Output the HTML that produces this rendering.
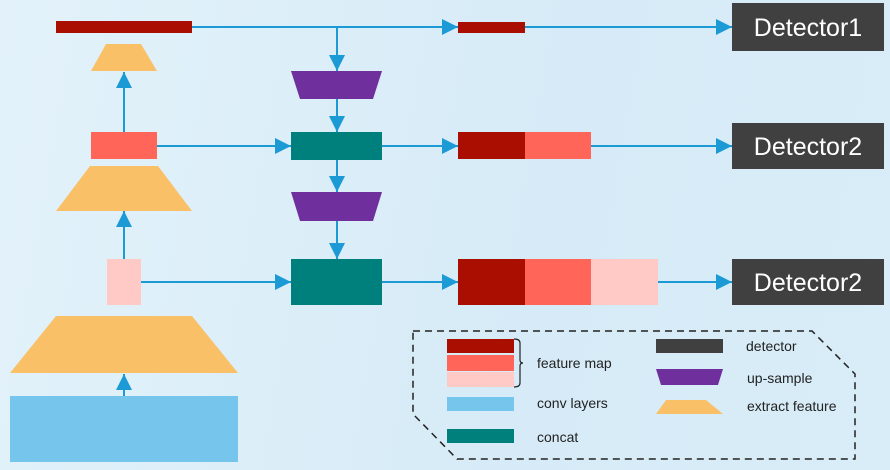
<!DOCTYPE html>
<html><head><meta charset="utf-8"><style>
html,body{margin:0;padding:0;width:890px;height:470px;overflow:hidden}
body{background:linear-gradient(100deg,#e3f2fa 0%,#d6ebf7 60%,#d9edf8 100%);font-family:"Liberation Sans",sans-serif}
</style></head><body>
<svg width="890" height="470" viewBox="0 0 890 470" xmlns="http://www.w3.org/2000/svg">
<defs><marker id="a" markerWidth="16" markerHeight="16" refX="16" refY="8" orient="auto" markerUnits="userSpaceOnUse"><path d="M0,0 L16,8 L0,16 Z" fill="#1b9ad6"/></marker></defs>
<g stroke="#1b9ad6" stroke-width="2" fill="none">
<line x1="192" y1="27" x2="458" y2="27" marker-end="url(#a)"/>
<line x1="525" y1="27" x2="732" y2="27" marker-end="url(#a)"/>
<line x1="337" y1="27" x2="337" y2="71" marker-end="url(#a)"/>
<line x1="337" y1="99" x2="337" y2="132" marker-end="url(#a)"/>
<line x1="337" y1="160" x2="337" y2="192" marker-end="url(#a)"/>
<line x1="337" y1="221" x2="337" y2="259" marker-end="url(#a)"/>
<line x1="157" y1="146" x2="291" y2="146" marker-end="url(#a)"/>
<line x1="382" y1="146" x2="458" y2="146" marker-end="url(#a)"/>
<line x1="591" y1="146" x2="732" y2="146" marker-end="url(#a)"/>
<line x1="141" y1="282" x2="291" y2="282" marker-end="url(#a)"/>
<line x1="382" y1="282" x2="458" y2="282" marker-end="url(#a)"/>
<line x1="658" y1="282" x2="732" y2="282" marker-end="url(#a)"/>
<line x1="124" y1="132" x2="124" y2="72" marker-end="url(#a)"/>
<line x1="124" y1="259" x2="124" y2="211" marker-end="url(#a)"/>
<line x1="124" y1="396" x2="124" y2="374" marker-end="url(#a)"/>
</g>
<rect x="56" y="21" width="136" height="12" fill="#a90e00"/>
<polygon points="106,44 141,44 157,71 91,71" fill="#f9c068"/>
<rect x="91" y="132" width="66" height="27" fill="#ff6659"/>
<polygon points="90,166 158,166 192,211 56,211" fill="#f9c068"/>
<rect x="107" y="259" width="34" height="46" fill="#ffcac6"/>
<polygon points="56,316 192,316 238,373 10,373" fill="#f9c068"/>
<rect x="10" y="396" width="228" height="66" fill="#76c5ed"/>
<polygon points="291,71 382,71 373,99 300,99" fill="#6f309e"/>
<rect x="291" y="132" width="91" height="28" fill="#00807d"/>
<polygon points="291,192 382,192 373,221 300,221" fill="#6f309e"/>
<rect x="291" y="259" width="91" height="46" fill="#00807d"/>
<rect x="458" y="22" width="67" height="11" fill="#a90e00"/>
<rect x="458" y="132" width="67" height="27" fill="#a90e00"/>
<rect x="525" y="132" width="66" height="27" fill="#ff6659"/>
<rect x="458" y="259" width="67" height="46" fill="#a90e00"/>
<rect x="525" y="259" width="66" height="46" fill="#ff6659"/>
<rect x="591" y="259" width="67" height="46" fill="#ffcac6"/>
<g fill="#404040"><rect x="732" y="3" width="152" height="48"/><rect x="732" y="123" width="152" height="46"/><rect x="732" y="259" width="152" height="46"/></g>
<g fill="#fff" font-size="25" text-anchor="middle"><text x="808" y="36">Detector1</text><text x="808" y="155">Detector2</text><text x="808" y="291">Detector2</text></g>
<polygon points="413,331 812,331 855,374 855,459 457,459 413,414" fill="none" stroke="#222" stroke-width="1.5" stroke-dasharray="7,5"/>
<rect x="447" y="339" width="67" height="14" fill="#a90e00"/>
<rect x="447" y="355" width="67" height="16" fill="#ff6659"/>
<rect x="447" y="372" width="67" height="15" fill="#ffcac6"/>
<path d="M514,339 q6,0 6,4 v17 q0,3 3,3 q-3,0 -3,3 v17 q0,4 -6,4" fill="none" stroke="#222" stroke-width="1.2"/>
<rect x="447" y="397" width="67" height="14" fill="#76c5ed"/>
<rect x="447" y="429" width="67" height="14" fill="#00807d"/>
<rect x="656" y="339" width="67" height="14" fill="#404040"/>
<polygon points="656,369 723,369 718,385 661,385" fill="#6f309e"/>
<polygon points="666,400 706,400 723,414 656,414" fill="#f9c068"/>
<g fill="#222" font-size="14"><text x="537" y="368">feature map</text><text x="537" y="408">conv layers</text><text x="537" y="442">concat</text><text x="746" y="351">detector</text><text x="747" y="383">up-sample</text><text x="747" y="411">extract feature</text></g>
</svg>
</body></html>
